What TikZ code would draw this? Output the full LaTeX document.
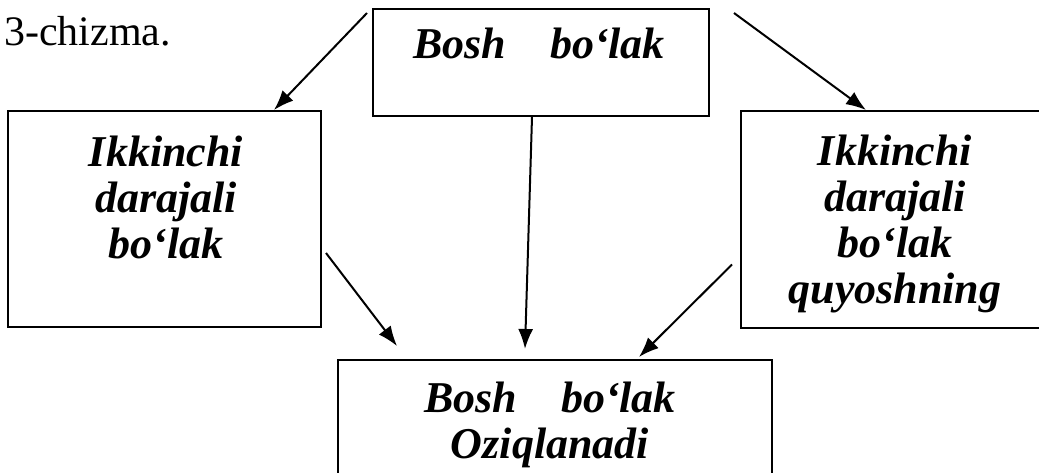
\documentclass[tikz,border=0pt]{standalone}
\usepackage{fontspec}
\setmainfont{Liberation Serif}
\usepackage{tikz}
\usetikzlibrary{arrows.meta,positioning}
\tikzset{
  box/.style={draw,line width=2pt,rectangle,inner sep=0pt},
  boxtext/.style={inner sep=0pt,align=center,
    font=\bfseries\itshape\fontsize{44}{46}\selectfont},
  arr/.style={line width=2pt,-{Latex[length=20pt,width=15pt]}}
}

\begin{document}
\begin{tikzpicture}[x=1pt,y=-1pt]
% frame of the page
\useasboundingbox (0,0) rectangle (1039,472);

\node[anchor=base west,inner sep=0pt,font=\fontsize{42}{44}\selectfont]
    (title) at (4,45) {3-chizma.};

% boxes
\node[box,minimum width=336pt,minimum height=107pt] (tbox) at (541,62.5) {};
\node[box,minimum width=313pt,minimum height=216pt] (lbox) at (164.5,219) {};
\node[box,minimum width=304pt,minimum height=217pt] (rbox) at (893,219.5) {};
\node[box,minimum width=434pt,minimum height=130pt] (bbox) at (555,425) {};

% texts (base = last line)
\node[boxtext,anchor=base] (ttext) at (539,58) {Bosh\hspace{0.75em} bo‘lak};
\node[boxtext,anchor=base] (ltext) at (166,258) {Ikkinchi\\ darajali\\ bo‘lak};
\node[boxtext,anchor=base] (rtext) at (895,303) {Ikkinchi\\ darajali\\ bo‘lak\\ quyoshning};
\node[boxtext,anchor=base] (btext) at (550,458) {Bosh\hspace{0.75em} bo‘lak\\ Oziqlanadi};

% arrows
\draw[arr] ([xshift=-5pt,yshift=-5pt]tbox.north west) -- ([xshift=-48pt]lbox.north east);
\draw[arr] ([xshift=24pt,yshift=-5pt]tbox.north east) -- ([xshift=126pt]rbox.north west);
\draw[arr] ([xshift=-9pt]tbox.south) -- ([xshift=-30pt,yshift=10pt]bbox.north);
\draw[arr] ([xshift=4pt,yshift=-34pt]lbox.east) -- ([xshift=60pt,yshift=13pt]bbox.north west);
\draw[arr] ([xshift=-8pt,yshift=-45pt]rbox.west) -- ([xshift=-134pt,yshift=2pt]bbox.north east);
\end{tikzpicture}
\end{document}
